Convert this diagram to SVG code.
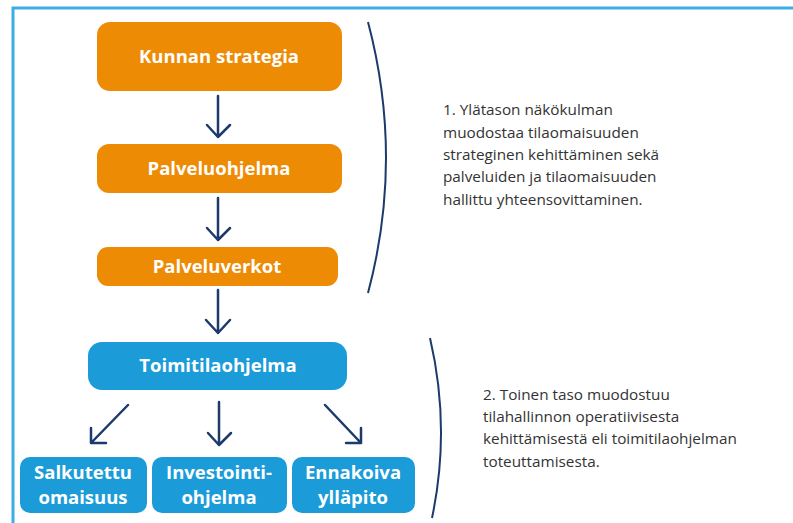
<svg xmlns="http://www.w3.org/2000/svg" width="793" height="523" viewBox="0 0 793 523">
<style>
.frame{stroke:#3aaee2;stroke-width:3;fill:none}
.or{fill:#ee8b05}
.bl{fill:#1b9cd8}
.nt{fill:#fff;font-family:"Open Sans","Liberation Sans",sans-serif;font-weight:bold;font-size:18.5px;text-anchor:middle}
.ar{stroke:#1c3a6b;stroke-width:2.5;fill:none;stroke-linecap:round;stroke-linejoin:round}
.br{stroke:#1c3a6b;stroke-width:2;fill:none}
.tx{fill:#333;font-family:"Open Sans","Liberation Sans",sans-serif;font-size:15.3px}
</style>
<rect width="793" height="523" fill="#fff"/>
<path class="frame" d="M13,523 V8 H793"/>
<g id="kunnan-strategia"><rect class="or" x="97" y="22" width="245" height="69" rx="13"/><text class="nt" x="219" y="63">Kunnan strategia</text></g>
<g id="palveluohjelma"><rect class="or" x="97" y="144" width="245" height="49" rx="12"/><text class="nt" x="219" y="175">Palveluohjelma</text></g>
<g id="palveluverkot"><rect class="or" x="97" y="247" width="241" height="39" rx="11"/><text class="nt" x="217" y="273">Palveluverkot</text></g>
<g id="toimitilaohjelma"><rect class="bl" x="88" y="342" width="259" height="48" rx="14"/><text class="nt" x="218" y="372">Toimitilaohjelma</text></g>
<g id="salkutettu"><rect class="bl" x="20" y="457" width="127" height="56" rx="10"/><text class="nt" x="83" y="479">Salkutettu</text><text class="nt" x="83" y="504">omaisuus</text></g>
<g id="investointiohjelma"><rect class="bl" x="152" y="457" width="135" height="56" rx="10"/><text class="nt" x="219" y="479">Investointi-</text><text class="nt" x="219" y="504">ohjelma</text></g>
<g id="ennakoiva"><rect class="bl" x="292" y="457" width="123" height="56" rx="10"/><text class="nt" x="353" y="479">Ennakoiva</text><text class="nt" x="353" y="504">ylläpito</text></g>
<g id="connectors">
<path class="ar" d="M218,96 V137 M207,125 L218,137 L230,125"/>
<path class="ar" d="M218,198 V240 M207,228 L218,240 L230,228"/>
<path class="ar" d="M218,290 V333 M206,320 L218,333 L230,320"/>
<path class="ar" d="M128,405 L91,443 M91,428 L91,443 L106,443"/>
<path class="ar" d="M219,402 V445 M208,433 L219,445 L231,433"/>
<path class="ar" d="M325,405 L361,443 M346,443 L361,443 L361,428"/>
</g>
<g id="brace-1"><path class="br" d="M368,22 Q404,158 368,293"/>
<text class="tx"><tspan x="443" y="115">1. Ylätason näkökulman</tspan><tspan x="443" y="138">muodostaa tilaomaisuuden</tspan><tspan x="443" y="160">strateginen kehittäminen sekä</tspan><tspan x="443" y="182">palveluiden ja tilaomaisuuden</tspan><tspan x="443" y="205">hallittu yhteensovittaminen.</tspan></text></g>
<g id="brace-2"><path class="br" d="M430,338 Q451,428 432,518"/>
<text class="tx"><tspan x="483" y="400">2. Toinen taso muodostuu</tspan><tspan x="483" y="422">tilahallinnon operatiivisesta</tspan><tspan x="483" y="444">kehittämisestä eli toimitilaohjelman</tspan><tspan x="483" y="467">toteuttamisesta.</tspan></text></g>
</svg>
